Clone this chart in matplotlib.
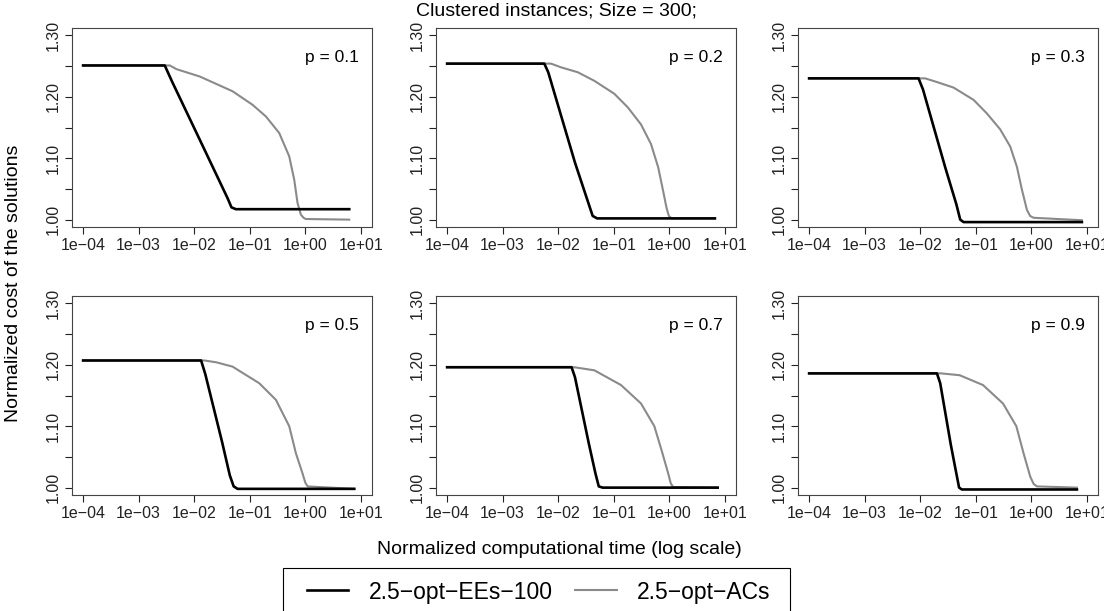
import matplotlib.pyplot as plt
from matplotlib.patches import Rectangle

plt.rcParams['font.family'] = ['Liberation Sans', 'DejaVu Sans']

p_values = [0.1, 0.2, 0.3, 0.5, 0.7, 0.9]

# p = 0.1
ees_time_01 = [1e-4, 2.95e-3, 3.98e-3, 1.26e-2, 3.98e-2, 4.68e-2, 5.62e-2, 6.17]
ees_cost_01 = [1.251, 1.251, 1.225, 1.130, 1.035, 1.020, 1.017, 1.017]
ac_time_01 = [1e-4, 3.63e-3, 4.79e-3, 1.26e-2, 4.90e-2, 0.112, 0.195, 0.339, 0.513,
              0.631, 0.724, 0.832, 0.93, 1.02, 6.17]
ac_cost_01 = [1.251, 1.251, 1.245, 1.233, 1.209, 1.187, 1.168, 1.141, 1.103,
              1.065, 1.027, 1.008, 1.003, 1.001, 1.000]

# p = 0.2
ees_time_02 = [1e-4, 5.62e-3, 6.61e-3, 2.0e-2, 3.55e-2, 4.17e-2, 5.01e-2, 6.61]
ees_cost_02 = [1.254, 1.254, 1.240, 1.093, 1.025, 1.006, 1.002, 1.002]
ac_time_02 = [1e-4, 7.41e-3, 1.12e-2, 2.24e-2, 4.47e-2, 0.102, 0.178, 0.309, 0.468,
              0.631, 0.776, 0.891, 0.98, 1.10, 6.61]
ac_cost_02 = [1.254, 1.254, 1.248, 1.240, 1.226, 1.205, 1.183, 1.155, 1.123,
              1.085, 1.046, 1.019, 1.006, 1.002, 1.002]

# p = 0.3
ees_time_03 = [1e-4, 9.33e-3, 1.12e-2, 2.82e-2, 4.47e-2, 5.25e-2, 6.03e-2, 8.13]
ees_cost_03 = [1.230, 1.230, 1.212, 1.085, 1.025, 1.000, 0.996, 0.996]
ac_time_03 = [1e-4, 1.23e-2, 2.0e-2, 3.98e-2, 9.12e-2, 0.158, 0.275, 0.417, 0.550,
              0.676, 0.832, 0.95, 1.10, 8.13]
ac_cost_03 = [1.230, 1.230, 1.224, 1.215, 1.195, 1.173, 1.147, 1.119, 1.086,
              1.049, 1.016, 1.006, 1.003, 0.999]

# p = 0.5
ees_time_05 = [1e-4, 1.33e-2, 1.58e-2, 3.16e-2, 4.37e-2, 5.13e-2, 6.03e-2, 7.59]
ees_cost_05 = [1.207, 1.207, 1.185, 1.075, 1.020, 1.002, 0.998, 0.998]
ac_time_05 = [1e-4, 1.53e-2, 2.51e-2, 4.90e-2, 0.148, 0.295, 0.513, 0.676, 0.891,
              1.00, 1.10, 7.59]
ac_cost_05 = [1.207, 1.207, 1.204, 1.197, 1.170, 1.143, 1.100, 1.056, 1.023,
              1.008, 1.002, 0.998]

# p = 0.7
ees_time_07 = [1e-4, 1.74e-2, 2.0e-2, 3.55e-2, 4.68e-2, 5.37e-2, 6.31e-2, 7.41]
ees_cost_07 = [1.196, 1.196, 1.180, 1.072, 1.023, 1.002, 1.000, 1.000]
ac_time_07 = [1e-4, 1.95e-2, 4.47e-2, 0.135, 0.309, 0.537, 0.724, 0.955, 1.06, 1.17, 7.41]
ac_cost_07 = [1.196, 1.196, 1.191, 1.167, 1.137, 1.100, 1.061, 1.023, 1.007, 1.001, 1.000]

# p = 0.9
ees_time_09 = [1e-4, 2.0e-2, 2.29e-2, 3.55e-2, 4.47e-2, 5.01e-2, 5.62e-2, 6.61]
ees_cost_09 = [1.186, 1.186, 1.170, 1.070, 1.023, 1.000, 0.997, 0.997]
ac_time_09 = [1e-4, 2.40e-2, 5.13e-2, 0.135, 0.309, 0.537, 0.724, 0.955, 1.10, 1.26, 6.61]
ac_cost_09 = [1.186, 1.186, 1.183, 1.167, 1.137, 1.100, 1.056, 1.018, 1.006, 1.002, 1.000]

ees_series = [(ees_time_01, ees_cost_01), (ees_time_02, ees_cost_02), (ees_time_03, ees_cost_03),
              (ees_time_05, ees_cost_05), (ees_time_07, ees_cost_07), (ees_time_09, ees_cost_09)]
ac_series = [(ac_time_01, ac_cost_01), (ac_time_02, ac_cost_02), (ac_time_03, ac_cost_03),
             (ac_time_05, ac_cost_05), (ac_time_07, ac_cost_07), (ac_time_09, ac_cost_09)]

x_ticks = [1e-4, 1e-3, 1e-2, 1e-1, 1e0, 1e1]
x_tick_labels = ['1e\u221204', '1e\u221203', '1e\u221202', '1e\u221201', '1e+00', '1e+01']
y_ticks = [1.00, 1.05, 1.10, 1.15, 1.20, 1.25, 1.30]
y_tick_labels = ['1.00', '', '1.10', '', '1.20', '', '1.30']

W, H = 1104, 611
fig = plt.figure(figsize=(W / 100, H / 100), dpi=100)

col_left = [72, 436, 798]
row_top = [28, 296]
ax_w, ax_h = 300, 199

for i, p in enumerate(p_values):
    r, c = divmod(i, 3)
    ax = fig.add_axes([col_left[c] / W, 1 - (row_top[r] + ax_h) / H, ax_w / W, ax_h / H])
    at, ac = ac_series[i]
    et, ec = ees_series[i]
    ax.plot(at, ac, color='#8a8a8a', lw=1.5, solid_joinstyle='round')
    ax.plot(et, ec, color='black', lw=1.9, solid_joinstyle='round')
    ax.set_xscale('log')
    ax.set_xlim(10 ** -4.2, 10 ** 1.2)
    ax.set_ylim(0.988, 1.312)
    ax.minorticks_off()
    ax.set_xticks(x_ticks)
    ax.set_xticklabels(x_tick_labels)
    ax.set_yticks(y_ticks)
    ax.set_yticklabels(y_tick_labels, rotation=90, va='center')
    ax.tick_params(direction='out', length=5, width=0.8, labelsize=11.5, pad=3, colors='#222222')
    for s in ax.spines.values():
        s.set_linewidth(0.8)
        s.set_color('#444444')
    ax.text(0.955, 0.852, f'p = {p}', transform=ax.transAxes, ha='right', va='center',
            fontsize=12.5)

fig.text(0.504, 0.982, 'Clustered instances; Size = 300;', ha='center', va='center', fontsize=14)
fig.text(0.507, 1 - 550 / H, 'Normalized computational time (log scale)', ha='center',
         va='center', fontsize=14)
fig.text(14 / W, 1 - 283 / H, 'Normalized cost of the solutions', ha='center', va='center',
         rotation=90, fontsize=14)

# legend box drawn by hand (R's legend frame is wider than tall padding)
fig.patches.append(Rectangle((283 / W, 1 - 616 / H), (790 - 283) / W, 48 / H,
                             transform=fig.transFigure, fill=False, edgecolor='black',
                             lw=0.8))
h1, = plt.plot([], [], color='black', lw=1.9)
h2, = plt.plot([], [], color='#8a8a8a', lw=1.5)
fig.legend([h1, h2], ['2.5\u2212opt\u2212EEs\u2212100', '2.5\u2212opt\u2212ACs'],
           loc='center', bbox_to_anchor=(0.488, 1 - 592 / H), ncol=2,
           fontsize=16.5, frameon=False, handlelength=1.8, handletextpad=0.9,
           columnspacing=1.0, borderpad=0.0, borderaxespad=0.0)

fig.savefig('out.png', dpi=100)
